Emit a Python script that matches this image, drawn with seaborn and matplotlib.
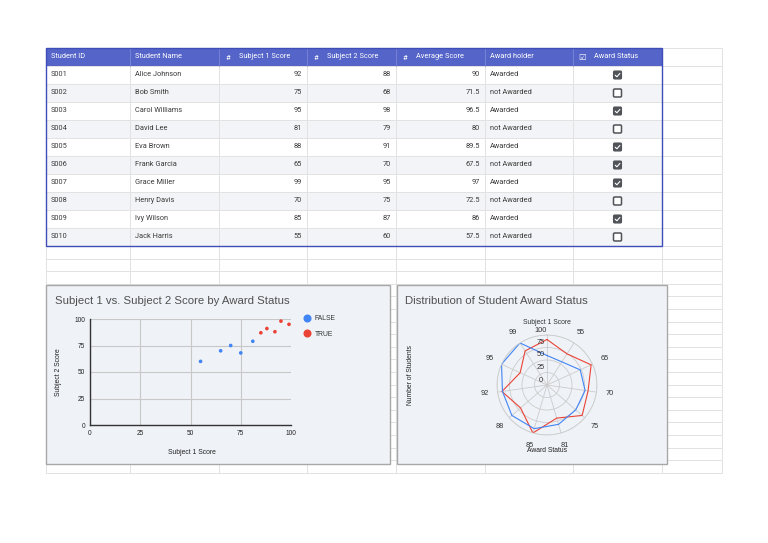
import numpy as np
import pandas as pd
import matplotlib
matplotlib.use("Agg")
import matplotlib.pyplot as plt
import matplotlib.patches as mpatches
from matplotlib.lines import Line2D
from matplotlib.transforms import offset_copy
import seaborn as sns

# Table data
headers = ["Student ID", "Student Name", "Subject 1 Score", "Subject 2 Score",
           "Average Score", "Award holder", "Award Status"]
student_ids = ["S001", "S002", "S003", "S004", "S005", "S006", "S007", "S008", "S009", "S010"]
student_names = ["Alice Johnson", "Bob Smith", "Carol Williams", "David Lee", "Eva Brown",
                 "Frank Garcia", "Grace Miller", "Henry Davis", "Ivy Wilson", "Jack Harris"]
subject1 = [92, 75, 95, 81, 88, 65, 99, 70, 85, 55]
subject2 = [88, 68, 98, 79, 91, 70, 95, 75, 87, 60]
average = [90, 71.5, 96.5, 80, 89.5, 67.5, 97, 72.5, 86, 57.5]
award_holder = ["Awarded", "not Awarded", "Awarded", "not Awarded", "Awarded",
                "not Awarded", "Awarded", "not Awarded", "Awarded", "not Awarded"]
award_status = [True, False, True, False, True, True, True, False, True, False]

# Radar chart data
radar_labels = ["Subject 1 Score", "55", "65", "70", "75", "81", "85", "88", "92", "95", "99"]
radar_red = [91, 74, 97, 83, 93, 69, 100, 70, 91, 59, 81]
radar_blue = [59, 55, 73, 77, 76, 82, 91, 93, 90, 100, 100]
radar_ticks = [0, 25, 50, 75, 100]

BLUE = "#4285F4"
RED = "#EA4335"
HEADER = "#5464C8"
BORDER = "#3F4DB8"
GRID = "#E2E2E2"
CHART_BG = "#EFF2F7"
TEXT = "#3A3A3A"
TABLE_FONT = ["Roboto", "DejaVu Sans"]
CHART_FONT = ["Liberation Sans", "DejaVu Sans"]

sns.set_style("white")
plt.rcParams["font.family"] = CHART_FONT

W, H = 768, 543
fig = plt.figure(figsize=(W / 100, H / 100), dpi=100)
fig.patch.set_facecolor("white")


def px_axes(x0, y0, x1, y1, **kw):
    return fig.add_axes([x0 / W, 1 - y1 / H, (x1 - x0) / W, (y1 - y0) / H], **kw)


bg = px_axes(0, 0, W, H)
bg.set_xlim(0, W)
bg.set_ylim(H, 0)
bg.axis("off")

# spreadsheet grid
col_edges = [46, 130, 219, 307, 396, 485, 573, 662, 722]
head_top, head_bot, row_h = 48, 66, 18
body_bot = head_bot + row_h * len(student_ids)
row_edges = [head_top, head_bot] + [head_bot + row_h * (i + 1) for i in range(len(student_ids))]
row_edges += [body_bot + 12.6 * k for k in range(1, 19)]
grid_bot = row_edges[-1]
for x in col_edges:
    bg.plot([x, x], [head_top, grid_bot], color=GRID, lw=0.7, zorder=1)
for y in row_edges:
    bg.plot([col_edges[0], col_edges[-1]], [y, y], color=GRID, lw=0.7, zorder=1)

# table body
for i in range(len(student_ids)):
    top = head_bot + row_h * i
    if i % 2 == 1:
        bg.add_patch(mpatches.Rectangle((col_edges[0], top), col_edges[7] - col_edges[0], row_h,
                                        facecolor="#F3F4F7", edgecolor="none", zorder=0.5))
    yc = top + row_h / 2
    cells = [student_ids[i], student_names[i], subject1[i], subject2[i], average[i], award_holder[i]]
    for j, val in enumerate(cells):
        if isinstance(val, str):
            bg.text(col_edges[j] + 5, yc, val, ha="left", va="center", fontsize=5.3,
                    color=TEXT, family=TABLE_FONT, zorder=4)
        else:
            bg.text(col_edges[j + 1] - 5, yc, f"{val:g}", ha="right", va="center", fontsize=5.3,
                    color=TEXT, family=TABLE_FONT, zorder=4)
    cx = (col_edges[6] + col_edges[7]) / 2
    if award_status[i]:
        bg.add_patch(mpatches.FancyBboxPatch((cx - 4, yc - 4), 8, 8, boxstyle="round,pad=0,rounding_size=1.2",
                                             facecolor="#505357", edgecolor="#505357", lw=0.8, zorder=4))
        bg.plot([cx - 2.3, cx - 0.6, cx + 2.4], [yc + 0.2, yc + 1.8, yc - 1.6], color="white", lw=0.8, zorder=5)
    else:
        bg.add_patch(mpatches.FancyBboxPatch((cx - 4, yc - 4), 8, 8, boxstyle="round,pad=0,rounding_size=1.2",
                                             facecolor="white", edgecolor="#505357", lw=1.1, zorder=4))

# header
bg.add_patch(mpatches.Rectangle((col_edges[0], head_top), col_edges[7] - col_edges[0], head_bot - head_top,
                                facecolor=HEADER, edgecolor="none", zorder=2))
for j in range(1, 7):
    bg.plot([col_edges[j], col_edges[j]], [head_top, head_bot], color="#7C89D6", lw=0.6, zorder=2.5)
hy = (head_top + head_bot) / 2
for j, h in enumerate(headers):
    if j in (2, 3, 4):
        bg.text(col_edges[j] + 9, hy + 0.5, "#", ha="center", va="center", fontsize=5.5,
                color="white", family=TABLE_FONT, zorder=4)
        bg.text(col_edges[j] + 20, hy, h, ha="left", va="center", fontsize=5.3,
                color="white", family=TABLE_FONT, zorder=4)
    elif j == 6:
        bg.text(col_edges[j] + 9, hy, "\u2611", ha="center", va="center", fontsize=6,
                color="white", family=["DejaVu Sans"], zorder=4)
        bg.text(col_edges[j] + 21, hy, h, ha="left", va="center", fontsize=5.3,
                color="white", family=TABLE_FONT, zorder=4)
    else:
        bg.text(col_edges[j] + 5, hy, h, ha="left", va="center", fontsize=5.3,
                color="white", family=TABLE_FONT, zorder=4)
bg.add_patch(mpatches.Rectangle((col_edges[0], head_top), col_edges[7] - col_edges[0], body_bot - head_top,
                                facecolor="none", edgecolor=BORDER, lw=1.0, zorder=6))

# chart boxes
for (x0, x1) in [(46, 390), (397, 667)]:
    bg.add_patch(mpatches.Rectangle((x0, 285), x1 - x0, 179, facecolor=CHART_BG,
                                    edgecolor="#A8A8A8", lw=1.0, zorder=3))

# scatter chart
bg.text(55, 301, "Subject 1 vs. Subject 2 Score by Award Status", ha="left", va="center",
        fontsize=8.2, color="#505050", zorder=4)
df = pd.DataFrame({"Subject 1 Score": subject1, "Subject 2 Score": subject2,
                   "Award": ["TRUE" if a == "Awarded" else "FALSE" for a in award_holder]})
sax = px_axes(90, 319, 291, 425)
sax.set_facecolor(CHART_BG)
sns.scatterplot(data=df, x="Subject 1 Score", y="Subject 2 Score", hue="Award",
                hue_order=["FALSE", "TRUE"], palette={"FALSE": BLUE, "TRUE": RED},
                s=7, linewidth=0, ax=sax, legend=False, zorder=3)
sax.set_xlim(0, 100)
sax.set_ylim(0, 100)
sax.set_xticks([0, 25, 50, 75, 100])
sax.set_yticks([0, 25, 50, 75, 100])
sax.set_xlabel("")
sax.set_ylabel("")
sax.grid(True, color="#C8C8C8", lw=0.8)
sax.get_xgridlines()[-1].set_visible(False)
sax.tick_params(length=0, labelsize=4.7, labelcolor="#222222", pad=3.5)
for side in ["top", "right"]:
    sax.spines[side].set_visible(False)
for side in ["left", "bottom"]:
    sax.spines[side].set_color("#333333")
    sax.spines[side].set_linewidth(1.0)
handles = [Line2D([], [], marker="o", ls="", color=BLUE, markersize=4.8),
           Line2D([], [], marker="o", ls="", color=RED, markersize=4.8)]
sax.legend(handles, ["FALSE", "TRUE"], loc="upper left", bbox_to_anchor=(304 / W, 1 - 315 / H),
           bbox_transform=fig.transFigure, frameon=False, fontsize=4.9, borderpad=0,
           borderaxespad=0, handlelength=1.0, handletextpad=0.6, labelspacing=1.25,
           labelcolor="#333333")
bg.text(192, 452, "Subject 1 Score", ha="center", va="center", fontsize=4.9, color="#222222", zorder=4)
bg.text(58, 372, "Subject 2 Score", ha="center", va="center", rotation=90, fontsize=4.9,
        color="#222222", zorder=4)

# radar chart
bg.text(405, 301, "Distribution of Student Award Status", ha="left", va="center",
        fontsize=8.2, color="#505050", zorder=4)
pax = px_axes(497, 335, 597, 435, projection="polar")
pax.patch.set_alpha(0)
pax.set_theta_zero_location("N")
pax.set_theta_direction(-1)
theta = np.linspace(0, 2 * np.pi, len(radar_labels), endpoint=False)
theta_c = np.append(theta, theta[0])
pax.plot(theta_c, radar_red + radar_red[:1], color=RED, lw=0.8)
pax.plot(theta_c, radar_blue + radar_blue[:1], color=BLUE, lw=0.8)
pax.set_ylim(0, 100)
pax.set_xticks(theta)
pax.set_xticklabels([])
pax.set_yticks(radar_ticks[1:])
pax.set_yticklabels([])
pax.grid(True, color="#CCCCCC", lw=0.6)
pax.spines["polar"].set_color("#CCCCCC")
pax.spines["polar"].set_linewidth(0.6)
for t, lab in zip(theta, radar_labels):
    pax.text(t, 126, lab, ha="center", va="center", fontsize=5.3 if t else 4.9,
             color="#333333", clip_on=False)
rtrans = offset_copy(pax.transData, fig=fig, x=-6, y=5, units="dots")
for v in radar_ticks:
    pax.text(0, v, str(v), transform=rtrans, ha="center", va="center", fontsize=5.3,
             color="#333333", clip_on=False)
bg.text(547, 451, "Award Status", ha="center", va="center", fontsize=4.9, color="#222222", zorder=4)
bg.text(410, 375, "Number of Students", ha="center", va="center", rotation=90, fontsize=4.9,
        color="#222222", zorder=4)

fig.savefig("out.png", dpi=100)
